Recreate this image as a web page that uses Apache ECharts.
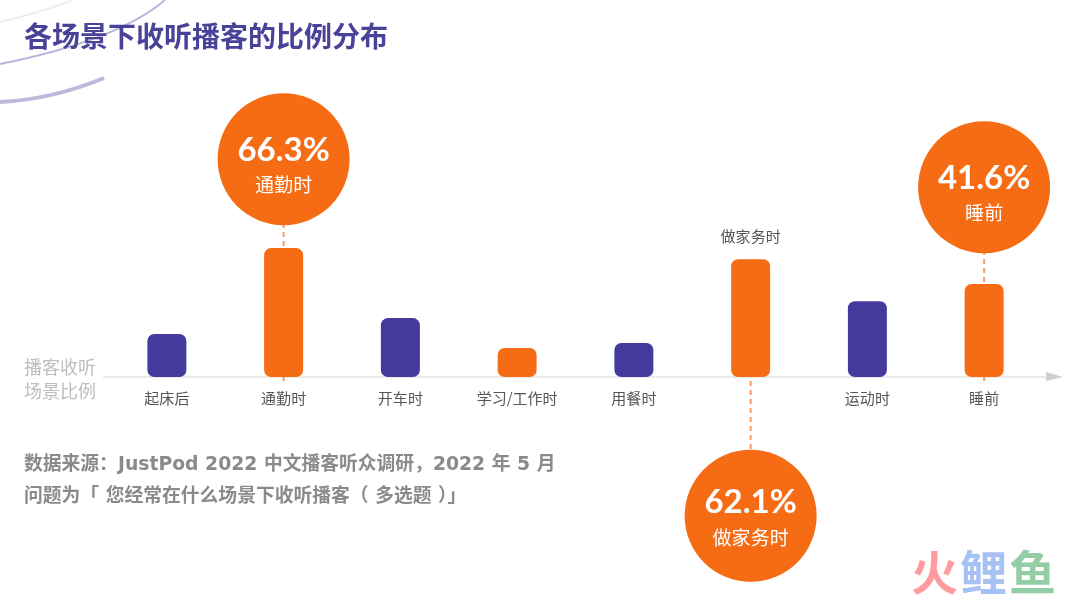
<!DOCTYPE html>
<html>
<head>
<meta charset="utf-8">
<title>各场景下收听播客的比例分布</title>
<script src="https://cdn.jsdelivr.net/npm/echarts@6/dist/echarts.min.js"></script>
<style>
    html, body { margin: 0; padding: 0; background: #fff; }
    #main { width: 1080px; height: 598px; }
</style>
</head>
<body>
<div id="main"></div>
<script>
// 图上的柱高并不与标注的百分比成比例，这里按 66.3 那根柱子的比例尺读数
var categories = ['起床后', '通勤时', '开车时', '学习/工作时', '用餐时', '做家务时', '运动时', '睡前'];
var barValues = [22.1, 66.3, 30.3, 14.9, 17.5, 60.6, 39, 47.8];
var orangeBars = [1, 3, 5, 7];
var calloutIndex = [1, 5, 7];
var calloutPercent = ['66.3%', '62.1%', '41.6%'];

var ORANGE = '#f56c14';
var PURPLE = '#443a9e';
var FONT = '"Noto Sans CJK SC", "Noto Sans", sans-serif';

// 圆圈在 y 轴上的高度，负数画在基线下面
var calloutLevel = [112, -71.4, 97.6];

var myChart = echarts.init(document.getElementById('main'));

// 柱子
var barData = [];
for (var i = 0; i < barValues.length; i++) {
    var item = {
        value: barValues[i],
        itemStyle: { color: orangeBars.indexOf(i) > -1 ? ORANGE : PURPLE }
    };
    // 做家务时的名字写在柱子上方
    if (i === 5) {
        item.label = {
            show: true,
            position: 'top',
            distance: 15,
            formatter: categories[i],
            fontFamily: FONT,
            fontSize: 15,
            color: '#555'
        };
    }
    barData.push(item);
}

var series = [];

// 虚线，放在柱子下面
for (var j = 0; j < calloutIndex.length; j++) {
    series.push({
        type: 'line',
        z: 1,
        clip: false,
        symbol: 'none',
        silent: true,
        lineStyle: { color: '#f79a63', width: 2, type: [5, 4] },
        data: [[calloutIndex[j], -2], [calloutIndex[j], calloutLevel[j]]]
    });
}

series.push({
    type: 'bar',
    z: 3,
    barWidth: 39,
    itemStyle: { borderRadius: 7 },
    data: barData
});

// 圆圈
var circleData = [];
for (var k = 0; k < calloutIndex.length; k++) {
    circleData.push({
        value: [calloutIndex[k], calloutLevel[k]],
        percent: calloutPercent[k],
        name: categories[calloutIndex[k]],
        // 基线下面那个圆里的字靠上一点
        label: { offset: [0, calloutLevel[k] < 0 ? 2 : 6] }
    });
}
series.push({
    type: 'scatter',
    z: 4,
    clip: false,
    symbol: 'circle',
    symbolSize: 132,
    itemStyle: { color: ORANGE, opacity: 1 },
    label: {
        show: true,
        position: 'inside',
        formatter: function (p) {
            return '{num|' + p.data.percent + '}\n{txt|' + p.data.name + '}';
        },
        rich: {
            num: {
                fontFamily: 'Lato, ' + FONT,
                fontSize: 33,
                fontWeight: 'bold',
                color: '#fff',
                lineHeight: 40
            },
            txt: {
                fontFamily: FONT,
                fontSize: 19,
                color: '#fff',
                lineHeight: 30
            }
        }
    },
    data: circleData
});

var option = {
    animation: false,
    backgroundColor: '#fff',
    title: [
        {
            text: '各场景下收听播客的比例分布',
            left: 19,
            top: 17,
            textStyle: { fontFamily: FONT, fontSize: 28, fontWeight: 'bold', color: '#4a4199' }
        },
        {
            text: '播客收听\n场景比例',
            left: 19,
            top: 350,
            textStyle: { fontFamily: FONT, fontSize: 18, fontWeight: 'normal', color: '#bdbdbd', lineHeight: 24 }
        },
        {
            text: '数据来源：JustPod 2022 中文播客听众调研，2022 年 5 月\n问题为「 您经常在什么场景下收听播客（ 多选题 ）」',
            left: 19,
            top: 444,
            textStyle: {
                fontFamily: '"DejaVu Sans", ' + FONT,
                fontSize: 18.8,
                fontWeight: 'bold',
                color: '#8a8a8a',
                lineHeight: 32
            }
        }
    ],
    grid: { left: 108.5, width: 934, top: 27, height: 350 },
    xAxis: {
        type: 'category',
        data: categories,
        axisLine: { show: true, lineStyle: { color: '#e4e4e4', width: 1.5 } },
        axisTick: { show: false },
        axisLabel: {
            interval: 0,
            margin: 14,
            fontFamily: FONT,
            fontSize: 15,
            color: '#555',
            formatter: function (v, idx) { return idx === 5 ? '' : v; }
        }
    },
    yAxis: {
        type: 'value',
        min: 0,
        max: 180,
        show: false
    },
    series: series,
    graphic: [
        // 左上角的装饰弧线
        { type: 'bezierCurve', z: 0, shape: { x1: 0, y1: 64, cpx1: 70, cpy1: 50, cpx2: 130, cpy2: 30, x2: 165, y2: 0 }, style: { stroke: '#b9b5da', lineWidth: 2, fill: null } },
        { type: 'bezierCurve', z: 0, shape: { x1: 0, y1: 102, cpx1: 40, cpy1: 100, cpx2: 75, cpy2: 90, x2: 104, y2: 78 }, style: { stroke: '#bdb9dc', lineWidth: 4, fill: null } },
        { type: 'bezierCurve', z: 0, shape: { x1: 0, y1: 22, cpx1: 25, cpy1: 16, cpx2: 50, cpy2: 9, x2: 72, y2: 0 }, style: { stroke: '#eeedf6', lineWidth: 2, fill: null } },
        // 横轴两头的延长和箭头
        { type: 'line', z: 0, shape: { x1: 103, y1: 377, x2: 109, y2: 377 }, style: { stroke: '#e4e4e4', lineWidth: 1.5 } },
        { type: 'line', z: 0, shape: { x1: 1042, y1: 377, x2: 1048, y2: 377 }, style: { stroke: '#e4e4e4', lineWidth: 1.5 } },
        { type: 'polygon', z: 2, shape: { points: [[1046, 372], [1063, 377], [1046, 381]] }, style: { fill: '#cfcfcf' } },
        // 水印
        { type: 'text', left: 911, top: 549, style: { text: '火', fontFamily: FONT, fontSize: 47, fontWeight: 'bold', fill: '#ff9a9e' } },
        { type: 'text', left: 960, top: 549, style: { text: '鲤', fontFamily: FONT, fontSize: 47, fontWeight: 'bold', fill: '#a6c2f5' } },
        { type: 'text', left: 1009, top: 549, style: { text: '鱼', fontFamily: FONT, fontSize: 47, fontWeight: 'bold', fill: '#92cda6' } }
    ]
};

myChart.setOption(option);
</script>
</body>
</html>
